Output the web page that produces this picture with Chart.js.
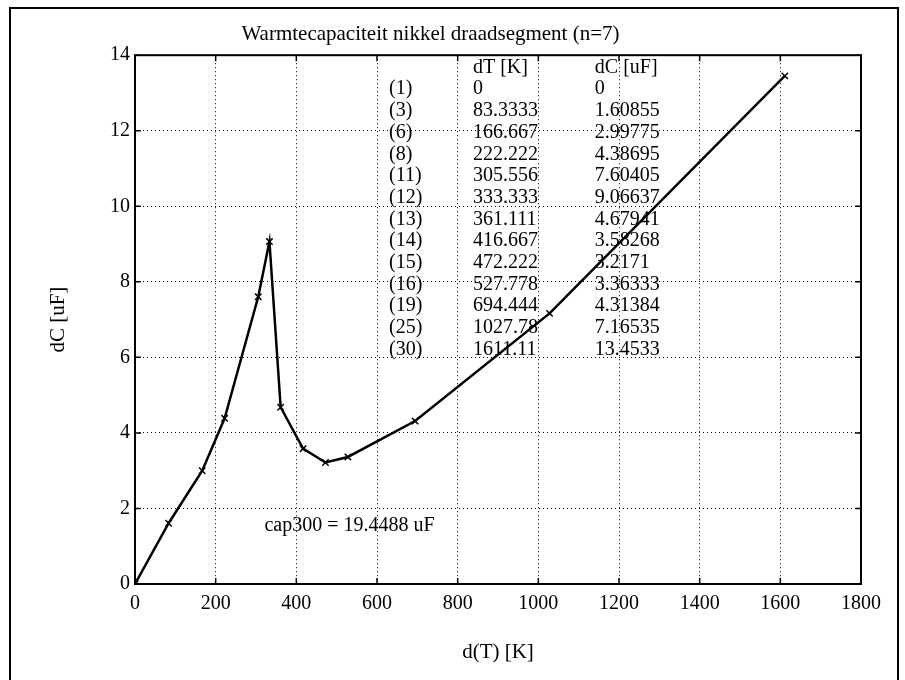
<!DOCTYPE html>
<html>
<head>
<meta charset="utf-8">
<title>Warmtecapaciteit nikkel draadsegment</title>
<script src="https://cdn.jsdelivr.net/npm/chart.js@4.4.1/dist/chart.umd.min.js"></script>
<style>
  body { margin: 0; background: #fff; }
  canvas { display: block; }
</style>
</head>
<body>
<canvas id="myChart" width="905" height="680"></canvas>
<script>
// meetpunten zoals in de tabel van de figuur
var nummers = ['(1)', '(3)', '(6)', '(8)', '(11)', '(12)', '(13)', '(14)', '(15)', '(16)', '(19)', '(25)', '(30)']
var dT = [0, 83.3333, 166.667, 222.222, 305.556, 333.333, 361.111, 416.667, 472.222, 527.778, 694.444, 1027.78, 1611.11]
var dC = [0, 1.60855, 2.99775, 4.38695, 7.60405, 9.06637, 4.67941, 3.58268, 3.2171, 3.36333, 4.31384, 7.16535, 13.4533]

var xTicks = [0, 200, 400, 600, 800, 1000, 1200, 1400, 1600, 1800]
var yTicks = [0, 2, 4, 6, 8, 10, 12, 14]

var cap300 = 19.4488

var serif = '"Liberation Serif", "Times New Roman", serif'
Chart.defaults.font.family = serif
Chart.defaults.font.size = 20
Chart.defaults.color = '#000'

var punten = dT.map(function(t, i) { return {x: t, y: dC[i]} })

// kader om de hele figuur
var kader = {
  id: 'kader',
  afterDraw: function(chart) {
    var ctx = chart.ctx
    ctx.save()
    ctx.strokeStyle = '#000'
    ctx.lineWidth = 2
    ctx.beginPath()
    ctx.moveTo(10, 680)
    ctx.lineTo(10, 8)
    ctx.lineTo(898, 8)
    ctx.lineTo(898, 680)
    ctx.stroke()
    ctx.restore()
  }
}

// matlab-achtige box met ticks naar binnen
var box = {
  id: 'box',
  afterDatasetsDraw: function(chart) {
    var ctx = chart.ctx
    var a = chart.chartArea
    var xs = chart.scales.x, ys = chart.scales.y
    ctx.save()
    ctx.strokeStyle = '#000'
    ctx.lineWidth = 2
    ctx.strokeRect(a.left, a.top, a.right - a.left, a.bottom - a.top)
    ctx.lineWidth = 1.5
    ctx.beginPath()
    xTicks.forEach(function(v) {
      var px = xs.getPixelForValue(v)
      ctx.moveTo(px, a.bottom); ctx.lineTo(px, a.bottom - 6)
      ctx.moveTo(px, a.top); ctx.lineTo(px, a.top + 6)
    })
    yTicks.forEach(function(v) {
      var py = ys.getPixelForValue(v)
      ctx.moveTo(a.left, py); ctx.lineTo(a.left + 6, py)
      ctx.moveTo(a.right, py); ctx.lineTo(a.right - 6, py)
    })
    ctx.stroke()
    ctx.restore()
  }
}

// tabel en tekst in de grafiek (data-coordinaten, zoals text() in matlab)
var tabel = {
  id: 'tabel',
  beforeDatasetsDraw: function(chart) {
    var ctx = chart.ctx
    var xs = chart.scales.x, ys = chart.scales.y
    var kolX = [xs.getPixelForValue(630), xs.getPixelForValue(838), xs.getPixelForValue(1140)]
    var kopY = ys.getPixelForValue(13.66)
    var rijY = ys.getPixelForValue(13.1)
    var stap = 21.7
    ctx.save()
    ctx.fillStyle = '#000'
    ctx.font = '20px ' + serif
    ctx.textAlign = 'left'
    ctx.textBaseline = 'middle'
    ctx.fillText('dT [K]', kolX[1], kopY)
    ctx.fillText('dC [uF]', kolX[2], kopY)
    nummers.forEach(function(n, i) {
      var y = rijY + i * stap
      ctx.fillText(n, kolX[0], y)
      ctx.fillText(String(dT[i]), kolX[1], y)
      ctx.fillText(String(dC[i]), kolX[2], y)
    })
    ctx.fillText('cap300 = ' + cap300 + ' uF', xs.getPixelForValue(321), ys.getPixelForValue(1.54))
    ctx.restore()
  }
}

var ctx = document.getElementById('myChart').getContext('2d')
var chart = new Chart(ctx, {
  type: 'line',
  data: {
    datasets: [
      {
        label: 'dC',
        data: punten,
        borderColor: '#000',
        backgroundColor: '#000',
        borderWidth: 2.5,
        tension: 0,
        pointStyle: 'crossRot',
        pointRadius: 4.5,
        pointBorderWidth: 1.5,
        pointBorderColor: '#000'
      }
    ]
  },
  options: {
    responsive: false,
    animation: false,
    layout: { padding: { left: 0, right: 44, top: 0, bottom: 0 } },
    plugins: {
      legend: { display: false },
      tooltip: { enabled: false },
      title: {
        display: true,
        text: 'Warmtecapaciteit nikkel draadsegment (n=7)',
        color: '#000',
        font: { family: serif, size: 21, weight: 'normal' },
        padding: { top: 22, bottom: 8 }
      }
    },
    scales: {
      x: {
        type: 'linear',
        min: 0,
        max: 1800,
        afterBuildTicks: function(s) { s.ticks = xTicks.map(function(v) { return {value: v} }) },
        afterFit: function(s) { s.height = 96 },
        ticks: { padding: 8, maxRotation: 0, font: { size: 20 }, callback: function(v) { return String(v) } },
        grid: { color: '#000', lineWidth: 1, drawTicks: false },
        border: { display: false, dash: [1, 3] },
        title: { display: true, text: 'd(T) [K]', font: { size: 21 }, padding: { top: 0, bottom: 15 } }
      },
      y: {
        type: 'linear',
        min: 0,
        max: 14,
        afterBuildTicks: function(s) { s.ticks = yTicks.map(function(v) { return {value: v} }) },
        afterFit: function(s) { s.width = 135 },
        ticks: { padding: 5, font: { size: 20 }, callback: function(v) { return String(v) } },
        grid: { color: '#000', lineWidth: 1, drawTicks: false },
        border: { display: false, dash: [1, 3] },
        title: { display: true, text: 'dC [uF]', font: { size: 21 }, padding: { top: 46, bottom: 0 } }
      }
    }
  },
  plugins: [kader, tabel, box]
})
</script>
</body>
</html>
